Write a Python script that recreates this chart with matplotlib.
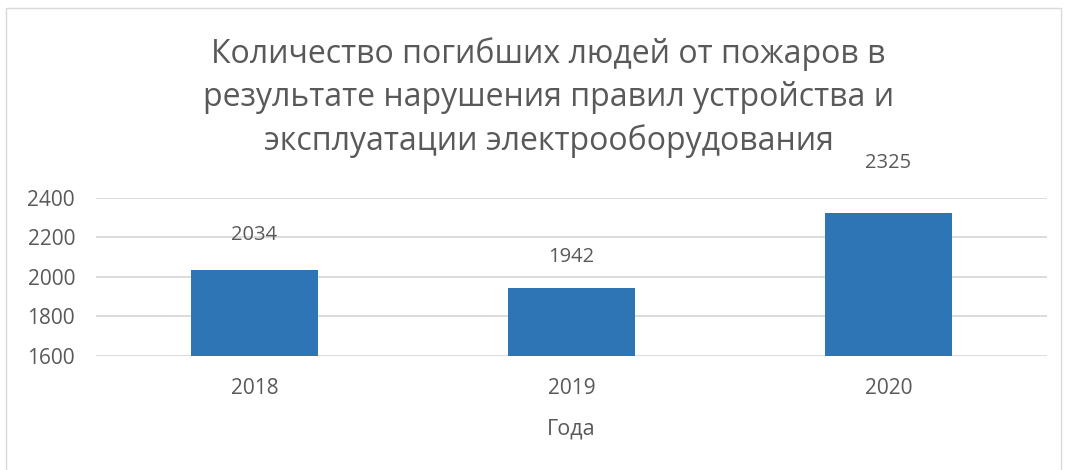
import matplotlib.pyplot as plt
from matplotlib.patches import Rectangle

years = ["2018", "2019", "2020"]
deaths = [2034, 1942, 2325]
yticks = [1600, 1800, 2000, 2200, 2400]

title_lines = ["Количество погибших людей от пожаров в",
               "результате нарушения правил устройства и",
               "эксплуатации электрооборудования"]

plt.rcParams['font.family'] = ['Open Sans', 'DejaVu Sans']
txt = '#595959'
blue = '#2E75B6'

fig = plt.figure(figsize=(10.65, 4.7), dpi=100)
ax = fig.add_axes([0.0901, 0.2426, 0.893, 0.3362])

x = range(len(years))
bars = ax.bar(x, deaths, width=0.4, color=blue, zorder=3)

# excel puts the labels well above the bars
label_off = [22, 19, 32]
for b, v, off in zip(bars, deaths, label_off):
    ax.annotate(str(v), (b.get_x() + b.get_width() / 2, v),
                xytext=(0, off), textcoords='offset points',
                ha='center', va='baseline', fontsize=14.5, color=txt,
                annotation_clip=False)

ax.set_xlim(-0.5, 2.5)
ax.set_ylim(1600, 2400)
ax.set_yticks(yticks)
ax.set_xticks(list(x))
ax.set_xticklabels(years)
ax.tick_params(length=0, labelsize=15, labelcolor=txt)
ax.tick_params(axis='x', pad=16)
ax.tick_params(axis='y', pad=15)
ax.grid(axis='y', color='#d9d9d9', linewidth=1.3, zorder=0)
for s in ax.spines.values():
    s.set_visible(False)

ax.set_xlabel("Года", fontsize=15.5, color=txt, labelpad=14)

# title as separate lines (baselines in px from top)
for line, yb in zip(title_lines, [63, 106, 150]):
    fig.text(0.515, 1 - yb / 470, line, ha='center', va='baseline',
             fontsize=23, color=txt)

# chart frame
fig.patches.append(Rectangle((0.0057, -0.01), 0.9905, 0.993,
                             transform=fig.transFigure, fill=False,
                             edgecolor='#d9d9d9', linewidth=1))

fig.savefig('out.png', dpi=100)
